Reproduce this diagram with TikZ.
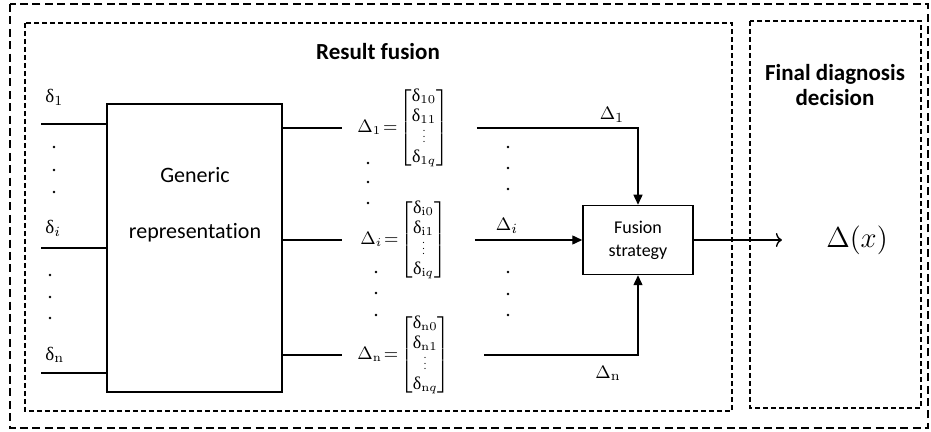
\documentclass[tikz,border=0pt]{standalone}
\usepackage{amsmath}
\usepackage[no-math]{fontspec}
\setmainfont{Carlito}[Ligatures=NoCommon]
\newfontfamily\greekfont{Liberation Serif}
\newcommand\gd{\text{\greekfont δ}}
\newcommand\vdts{\vbox{\baselineskip2.6pt\lineskiplimit0pt\kern1.5pt\hbox{\tiny.}\hbox{\tiny.}\hbox{\tiny.}}}
\usetikzlibrary{arrows.meta,positioning}

\begin{document}
\begin{tikzpicture}[
  x=0.5pt, y=-0.5pt,
  font=\fontsize{10}{12}\selectfont,
  frame/.style={draw=black, line width=0.65pt, dash pattern=on 4pt off 2.2pt},
  area/.style={draw=black, line width=0.6pt, dash pattern=on 2.3pt off 1.7pt},
  block/.style={draw=black, line width=0.75pt, inner sep=0pt},
  wire/.style={draw=black, line width=0.7pt},
  arrow/.style={wire, -{Triangle[length=5pt,width=4.5pt]}},
  outarrow/.style={wire, -{To[length=3pt,width=7pt]}},
  lbl/.style={inner sep=1pt, font=\fontsize{9.5}{11}\selectfont},
  vec/.style={inner sep=0pt, font=\fontsize{9}{10}\selectfont},
  tinydot/.style={fill=black}
]
\useasboundingbox (0,0) rectangle (931,432);

% frames
\draw[frame] (10,4) rectangle (928,428);
\draw[area] (25,23) rectangle (732,411);
\draw[area] (750,21) rectangle (921,408);

\node[font=\fontsize{11.5}{13}\selectfont\bfseries] (title) at (378,52) {Result fusion};
\node[font=\fontsize{11.5}{12.5}\selectfont\bfseries, align=center] (dtitle) at (835,85) {Final diagnosis\\decision};

% generic representation
\node[block, minimum width=87.5pt, minimum height=144pt] (gen) at (194.5,248) {};
\node[font=\fontsize{11}{28}\selectfont, align=center] (gtxt) at (195,205) {Generic\\representation};

% inputs
\coordinate (in1) at (41,124);
\coordinate (ini) at (41,248);
\coordinate (inn) at (41,373);
\draw[wire] (in1) -- (in1 -| gen.west);
\draw[wire] (ini) -- (ini -| gen.west);
\draw[wire] (inn) -- (inn -| gen.west);
\node[lbl, anchor=west] (d1) at (43,97) {$\gd_{1}$};
\node[lbl, anchor=west] (di) at (43,228) {$\gd_{i}$};
\node[lbl, anchor=west] (dn) at (43,355) {$\gd_{\mathrm{n}}$};

% result vectors
\renewcommand\arraystretch{1.0}
\node[vec, anchor=west] (m1) at (357,128)
  {$\Delta_1\!=\!\begin{bmatrix}\gd_{10}\\ \gd_{11}\\ \vdts\\ \gd_{1q}\end{bmatrix}$};
\node[vec, anchor=west] (mi) at (360,240)
  {$\Delta_i\!=\!\begin{bmatrix}\gd_{\mathrm{i}0}\\ \gd_{\mathrm{i}1}\\ \vdts\\ \gd_{\mathrm{i}q}\end{bmatrix}$};
\node[vec, anchor=west] (mn) at (357,355)
  {$\Delta_{\mathrm{n}}\!=\!\begin{bmatrix}\gd_{\mathrm{n}0}\\ \gd_{\mathrm{n}1}\\ \vdts\\ \gd_{\mathrm{n}q}\end{bmatrix}$};
\draw[wire] (gen.east |- m1.west) -- ([xshift=-7.5pt]m1.west);
\draw[wire] (gen.east |- mi.west) -- ([xshift=-9pt]mi.west);
\draw[wire] (gen.east |- mn.west) -- ([xshift=-7.5pt]mn.west);

% fusion strategy
\node[block, minimum width=55pt, minimum height=34.5pt, align=center,
  font=\fontsize{9}{11.5}\selectfont] (fus) at (638,240) {Fusion\\strategy};
\draw[arrow] ([xshift=14pt]m1.east) -| (fus.north);
\draw[arrow] ([xshift=14pt]mi.east |- fus.west) -- (fus.west);
\draw[arrow] ([xshift=17pt]mn.east) -| (fus.south);
\node[lbl] (l1) at (612,115) {$\Delta_1$};
\node[lbl] (li) at (507,226) {$\Delta_i$};
\node[lbl] (ln) at (608,373) {$\Delta_{\mathrm{n}}$};

% decision
\node[inner sep=0pt, font=\fontsize{14}{16}\selectfont] (dx) at (857,240) {$\Delta(x)$};
\draw[outarrow, shorten >=22pt] (fus.east) -- (dx.west);

% dots
\foreach \yy in {147,170,192} \fill[tinydot] (54,\yy) circle[radius=0.65pt];
\foreach \yy in {275,297,318} \fill[tinydot] (50,\yy) circle[radius=0.65pt];
\foreach \yy in {163,182,203} \fill[tinydot] (368,\yy) circle[radius=0.65pt];
\foreach \yy in {272,293,315} \fill[tinydot] (376,\yy) circle[radius=0.65pt];
\foreach \yy in {147,168,189,272,294,315} \fill[tinydot] (508,\yy) circle[radius=0.65pt];

\end{tikzpicture}
\end{document}
